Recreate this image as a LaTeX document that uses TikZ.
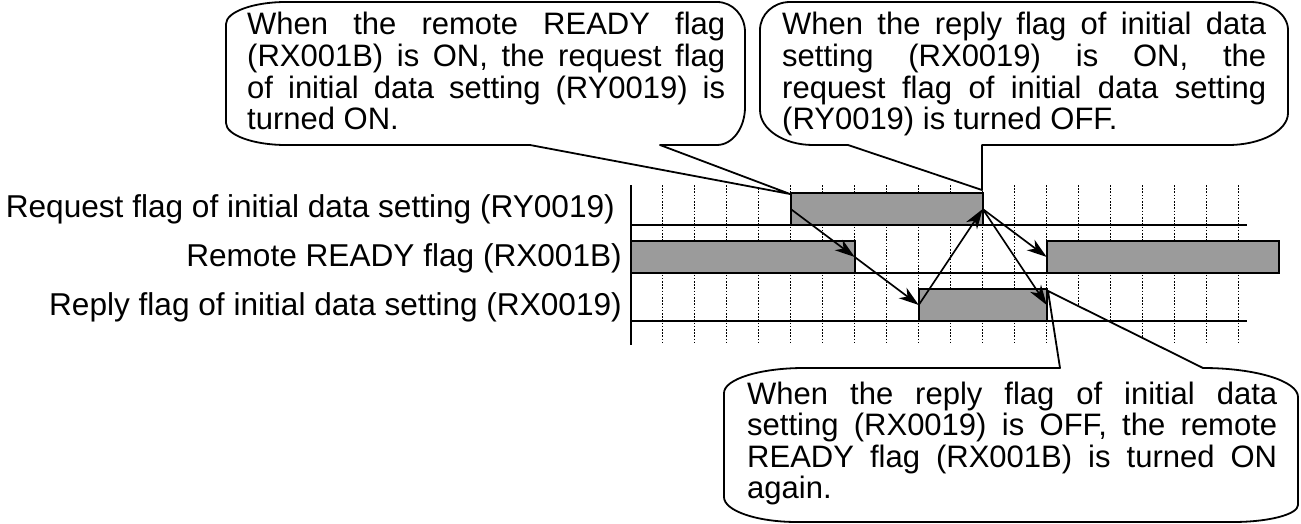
\documentclass[tikz,border=0pt]{standalone}
\usepackage{fontspec}
\setmainfont{Liberation Sans}
\usetikzlibrary{arrows.meta}
\definecolor{sigfill}{RGB}{155,155,155}
\newcommand{\jl}[2]{\makebox[#1][s]{#2}}
\begin{document}
\begin{tikzpicture}[x=1pt,y=-1pt,
  gridline/.style={line width=1.3pt, dash pattern=on 1.6pt off 1.6pt},
  rowline/.style={line width=1.4pt},
  sig/.style={draw=black, line width=1.8pt, fill=sigfill, inner sep=0pt, outer sep=0pt, minimum height=32pt},
  flow/.style={line width=1.7pt, -{Stealth[length=20pt,width=13pt,inset=6pt]}},
  bubble/.style={draw=black, line width=1.8pt, fill=white, line join=round},
  lab/.style={anchor=base east, inner sep=0pt, font=\fontsize{31.6}{36}\selectfont},
  ctext/.style={anchor=base west, inner sep=0pt, font=\fontsize{31}{31.6}\selectfont}
]
\useasboundingbox (0,0) rectangle (1301,524);

% grid
\foreach \k in {1,...,19} \draw[gridline] (630.7+32*\k,185) -- (630.7+32*\k,343);

% callouts
\draw[bubble] (226,24) .. controls (226,12) and (253,2) .. (286,2) -- (717,2)
  .. controls (732.5,2) and (745,15.4) .. (745,32) -- (745,107)
  .. controls (745,128) and (732.5,145) .. (717,145) -- (660,145) -- (790,194) -- (530,145) -- (286,145)
  .. controls (253,145) and (226,135) .. (226,123) -- cycle;
\draw[bubble] (760,30) .. controls (760,14.5) and (773.4,2) .. (790,2) -- (1250,2)
  .. controls (1271,2) and (1288,14.5) .. (1288,30) -- (1288,113)
  .. controls (1288,130.7) and (1261,145) .. (1228,145) -- (982,145) -- (982,190) -- (848,145) -- (813,145)
  .. controls (783.7,145) and (760,129.3) .. (760,110) -- cycle;
\draw[bubble] (724,393) .. controls (724,379.2) and (759.8,368) .. (804,368) -- (1060,368) -- (1048,291) -- (1203,368)
  .. controls (1255.5,368) and (1298,381) .. (1298,397) -- (1298,505)
  .. controls (1298,514.4) and (1268.9,522) .. (1233,522) -- (797,522)
  .. controls (756.7,522) and (724,510.8) .. (724,497) -- cycle;

% axis and row lines
\draw[line width=1.6pt] (630.7,185) -- (630.7,345);
\foreach \y in {225,273,321} \draw[rowline] (630.7,\y) -- (1247,\y);

% signal boxes
\node[sig, minimum width=192pt] (ry) at (886.7,209) {};
\node[sig, minimum width=224pt] (rb1) at (742.7,257) {};
\node[sig, minimum width=232.3pt] (rb2) at (1162.85,257) {};
\node[sig, minimum width=128pt] (rx) at (982.7,305) {};

% arrows
\draw[flow] (ry.west) -- (rb1.east);
\draw[flow] (rb1.east) -- (rx.west);
\draw[flow] (rx.west) -- (ry.east);
\draw[flow] (ry.east) -- (rb2.west);
\draw[flow] (ry.east) -- (rx.east);

% row labels
\node[lab] (l1) at (615,217.5) {Request flag of initial data setting (RY0019)};
\node[lab] (l2) at (622,266.5) {Remote READY flag (RX001B)};
\node[lab] (l3) at (622,315.5) {Reply flag of initial data setting (RX0019)};

% callout texts
\node[ctext] (c1) at (247,35) {\parbox[t]{478pt}{\jl{478pt}{When the remote READY flag}\\\jl{478pt}{(RX001B) is ON, the request flag}\\\jl{478pt}{of initial data setting (RY0019) is}\\turned ON.}};
\node[ctext] (c2) at (782,35) {\parbox[t]{484pt}{\jl{484pt}{When the reply flag of initial data}\\\jl{484pt}{setting (RX0019) is ON, the}\\\jl{484pt}{request flag of initial data setting}\\(RY0019) is turned OFF.}};
\node[ctext] (c3) at (747,404) {\parbox[t]{530pt}{\jl{530pt}{When the reply flag of initial data}\\\jl{530pt}{setting (RX0019) is OFF, the remote}\\\jl{530pt}{READY flag (RX001B) is turned ON}\\again.}};
\end{tikzpicture}
\end{document}
